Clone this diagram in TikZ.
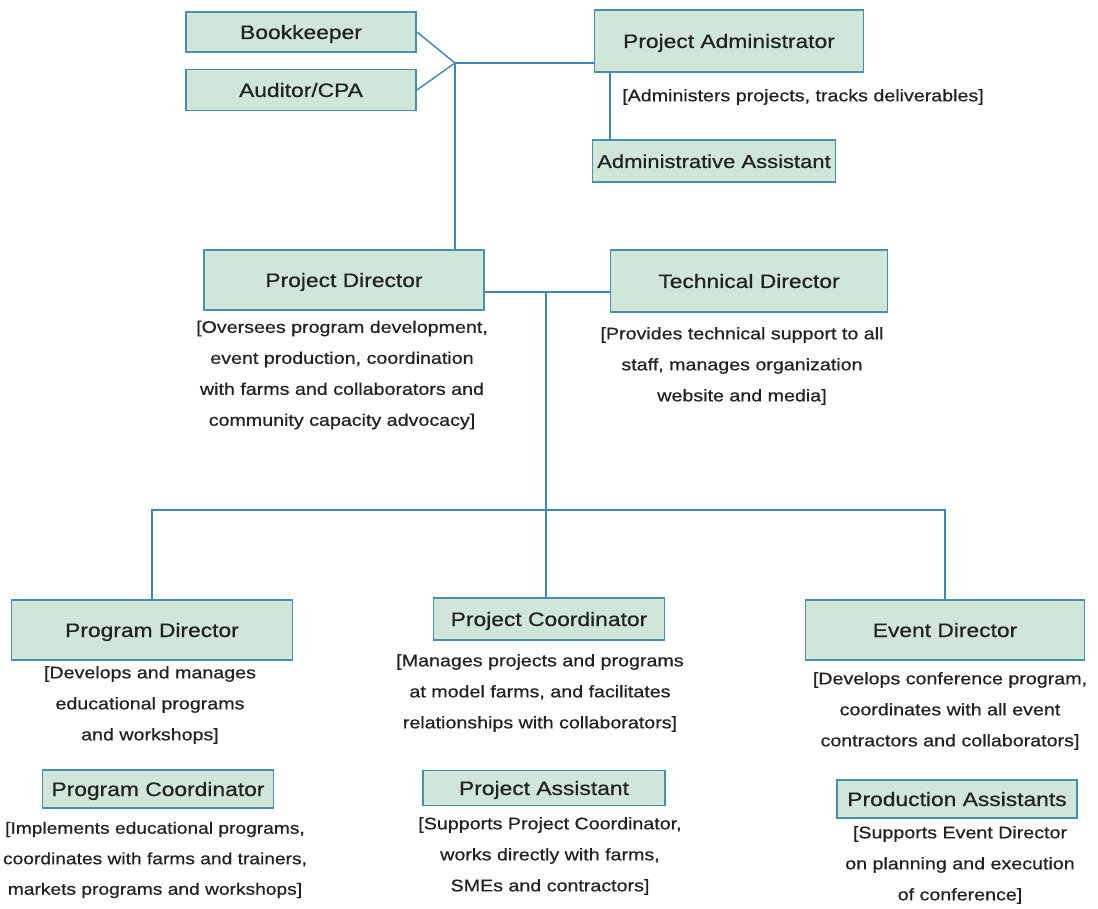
\documentclass[tikz,border=0pt]{standalone}
\usepackage{fontspec}
\setmainfont[FakeStretch=1.17,FakeBold=0.6]{Liberation Sans}
\definecolor{boxfill}{HTML}{CFE6D8}
\definecolor{boxline}{HTML}{4A8FB0}
\definecolor{conn}{HTML}{3D86B8}
\definecolor{txt}{HTML}{222222}
\begin{document}
\begin{tikzpicture}[x=1pt,y=-1pt,
  rolebox/.style={draw=boxline,line width=1.8pt,fill=boxfill,inner sep=0pt,
    font=\fontsize{19.5}{22}\selectfont,text=txt,text height=14pt,text depth=0pt},
  desc/.style={align=center,font=\fontsize{16.8}{31}\selectfont,text=txt,inner sep=0pt},
  link/.style={draw=conn,line width=1.4pt}]
\useasboundingbox (0,0) rectangle (1098,909);
\fill[white] (0,0) rectangle (1098,909);
% top row
\node[rolebox,minimum width=230pt,minimum height=40pt] (book) at (301,32) {Bookkeeper};
\node[rolebox,minimum width=230pt,minimum height=41pt] (aud) at (301,90) {Auditor/CPA};
\node[rolebox,minimum width=269pt,minimum height=62pt] (padm) at (729,41) {Project Administrator};
\node[desc,anchor=west] (padmd) at (622,97) {[Administers projects, tracks deliverables]};
\node[rolebox,minimum width=243pt,minimum height=42pt,font=\fontsize{18.8}{22}\selectfont] (aa) at (714,161) {Administrative Assistant};
\coordinate (j1) at (455,63);
\draw[link] (book.east) -- (j1);
\draw[link] (aud.east) -- (j1);
\draw[link] (j1) -- (j1 -| padm.west);
\draw[link] (padm.south -| 610,0) -- (aa.north -| 610,0);
% directors
\node[rolebox,minimum width=280pt,minimum height=60pt] (pd) at (344,280) {Project Director};
\node[rolebox,minimum width=277pt,minimum height=62pt] (td) at (749,281) {Technical Director};
\draw[link] (j1) -- (j1 |- pd.north);
\node[desc] (pdd) at (342,375) {[Oversees program development,\\event production, coordination\\with farms and collaborators and\\community capacity advocacy]};
\node[desc] (tdd) at (742,366) {[Provides technical support to all\\staff, manages organization\\website and media]};
\coordinate (j2) at (546,292);
\draw[link] (pd.east |- j2) -- (td.west |- j2);
% lower level
\node[rolebox,minimum width=281pt,minimum height=60pt] (prd) at (152,630) {Program Director};
\node[rolebox,minimum width=231pt,minimum height=42pt] (pc) at (549,619) {Project Coordinator};
\node[rolebox,minimum width=279pt,minimum height=60pt] (ed) at (945,630) {Event Director};
\draw[link] (j2) -- (j2 |- pc.north);
\coordinate (j3) at (546,510);
\draw[link] (prd.north) -- (prd.north |- j3) -- (ed.north |- j3) -- (ed.north);
\node[desc] (prdd) at (150,705) {[Develops and manages\\educational programs\\and workshops]};
\node[desc] (pcd) at (540,693) {[Manages projects and programs\\at model farms, and facilitates\\relationships with collaborators]};
\node[desc] (edd) at (950,711) {[Develops conference program,\\coordinates with all event\\contractors and collaborators]};
% bottom
\node[rolebox,minimum width=231pt,minimum height=38pt] (pgc) at (158,789) {Program Coordinator};
\node[rolebox,minimum width=242pt,minimum height=35pt] (pas) at (544,788) {Project Assistant};
\node[rolebox,minimum width=240pt,minimum height=38pt] (proa) at (957,799) {Production Assistants};
\node[desc,font=\fontsize{16.4}{30.5}\selectfont] (pgcd) at (155,860) {[Implements educational programs,\\coordinates with farms and trainers,\\markets programs and workshops]};
\node[desc] (pasd) at (550,856) {[Supports Project Coordinator,\\works directly with farms,\\SMEs and contractors]};
\node[desc] (proad) at (960,865) {[Supports Event Director\\on planning and execution\\of conference]};
\end{tikzpicture}
\end{document}
